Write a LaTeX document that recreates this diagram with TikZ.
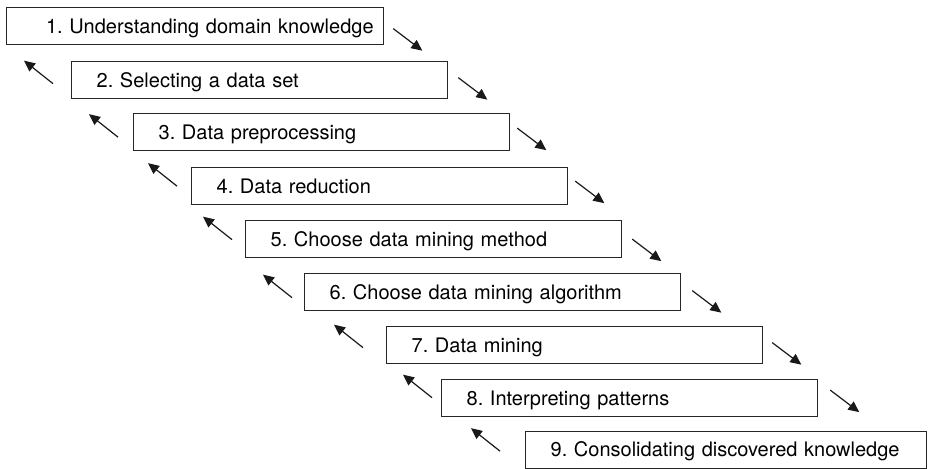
\documentclass[tikz,border=0pt]{standalone}
\usepackage{fontspec}
\setmainfont{TeX Gyre Heros}
\usetikzlibrary{arrows.meta}
\frenchspacing

\begin{document}
\begin{tikzpicture}[x=1pt, y=-1pt,
		stepbox/.style={draw=black!85, line width=1.3pt, anchor=north west,
			minimum height=37pt, text width=326pt, inner xsep=25pt, inner ysep=0pt,
			text height=14.4pt, text depth=0pt, align=left,
			font=\fontsize{20}{24}\selectfont},
		flow/.style={draw=black!90, line width=1.2pt, -{Triangle[length=11pt,width=10pt]}}]

		\useasboundingbox (0,0) rectangle (930,469);

		\node[stepbox, align=right, inner xsep=10pt, text width=357pt] (b1) at (6,7) {1. Understanding domain knowledge};
		\node[stepbox] (b2) at (71,61) {2. Selecting a data set};
		\node[stepbox] (b3) at (133,113) {3. Data preprocessing};
		\node[stepbox] (b4) at (191,167) {4. Data reduction};
		\node[stepbox] (b5) at (245,220) {5. Choose data mining method};
		\node[stepbox] (b6) at (304,273) {6. Choose data mining algorithm};
		\node[stepbox] (b7) at (386,326) {7. Data mining};
		\node[stepbox] (b8) at (441,379) {8. Interpreting patterns};
		\node[stepbox, text width=351pt] (b9) at (525,430.5) {9. Consolidating discovered knowledge};

		% forward steps
		\foreach \i/\dx/\dy in {1/9/2.5, 2/10/-2.5, 3/7/-4, 4/7/-5, 5/10/0, 6/11/-1.5, 7/9/-2.5, 8/12/-8}
		\draw[flow] ([shift={(\dx,\dy)}]b\i.east) -- ++(29,22);

		% going back
		\foreach \i/\dx/\dy in {2/-18/3.5, 3/-15/5, 4/-14/0, 5/-13/0.5, 6/-12/5.5, 7/-23/2.5, 8/-9/-0.5, 9/-25/1.5}
		\draw[flow] ([shift={(\dx,\dy)}]b\i.west) -- ++(-29,-23);

	\end{tikzpicture}
\end{document}
